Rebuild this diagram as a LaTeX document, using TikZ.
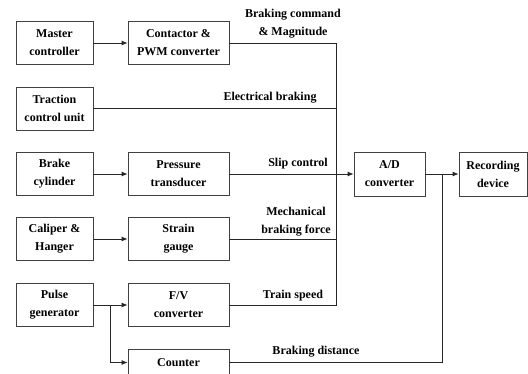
\documentclass[tikz,border=0pt]{standalone}
\usepackage{fontspec}
\setmainfont{Liberation Serif}
\usetikzlibrary{
    arrows.meta,
    positioning,
    calc
}

\begin{document}
\begin{tikzpicture}[
    x=1pt,
    y=-1pt,
    every node/.style={
        font=\bfseries\fontsize{12pt}{18pt}\selectfont
    },
    block/.style={
        draw=black!75,
        line width=0.8pt,
        align=center,
        inner sep=1pt,
        minimum height=43pt
    },
    lbl/.style={
        align=center,
        inner sep=0pt
    },
    wire/.style={
        draw=black!85,
        line width=0.8pt
    },
    flow/.style={
        wire,
        -{Latex[length=6pt,width=5pt]}
    }
]

    \useasboundingbox (0,0) rectangle (528,374);

    % Sensor and source blocks
    \node[block, minimum width=77pt] (master) at (54.5,43)
        {Master\\controller};
    \node[block, minimum width=77pt] (traction) at (54.5,108.5)
        {Traction\\control unit};
    \node[block, minimum width=77pt] (brake) at (54.5,174)
        {Brake\\cylinder};
    \node[block, minimum width=77pt] (caliper) at (54.5,239)
        {Caliper \&\\Hanger};
    \node[block, minimum width=77pt] (pulse) at (54.5,305)
        {Pulse\\generator};

    % Converters
    \node[block, minimum width=101pt] (contactor) at (178.5,43)
        {Contactor \&\\PWM converter};
    \node[block, minimum width=101pt] (pressure) at (178.5,174)
        {Pressure\\transducer};
    \node[block, minimum width=101pt] (strain) at (178.5,239)
        {Strain\\gauge};
    \node[block, minimum width=101pt] (fv) at (178.5,305)
        {F/V\\converter};
    \node[block, minimum width=101pt, minimum height=27pt] (counter) at (178.5,362.5)
        {Counter};

    % Acquisition
    \node[block, minimum width=71pt, minimum height=44pt] (ad) at (389.5,174)
        {A/D\\converter};
    \node[block, minimum width=68pt, minimum height=44pt] (rec) at (493,174)
        {Recording\\device};

    % Collecting line
    \coordinate (bus) at (336,0);
    \coordinate (split) at ($(pulse.east)!0.5!(fv.west)$);
    \coordinate (join) at ($(ad.east)!0.5!(rec.west)$);

    \draw[flow] (master) -- (contactor);
    \draw[flow] (brake) -- (pressure);
    \draw[flow] (caliper) -- (strain);
    \draw[flow] (pulse) -- (fv);
    \draw[flow] (split) |- (counter.west);

    \draw[wire] (contactor.east) -| (fv.east -| bus) -- (fv.east);
    \draw[wire] (traction.east) -- (traction.east -| bus);
    \draw[wire] (strain.east) -- (strain.east -| bus);
    \draw[flow] (pressure.east) -- (ad.west);
    \draw[flow] (ad) -- (rec);
    \draw[wire] (counter.east) -| (join);

    % Signal labels
    \node[lbl] (cmdlbl) at (293,24)
        {Braking command\\\& Magnitude};
    \node[lbl] (eleclbl) at (270,98)
        {Electrical braking};
    \node[lbl] (sliplbl) at (298,164)
        {Slip control};
    \node[lbl] (mechlbl) at (296,222)
        {Mechanical\\braking force};
    \node[lbl] (speedlbl) at (293,296)
        {Train speed};
    \node[lbl] (distlbl) at (316,352)
        {Braking distance};

\end{tikzpicture}
\end{document}
